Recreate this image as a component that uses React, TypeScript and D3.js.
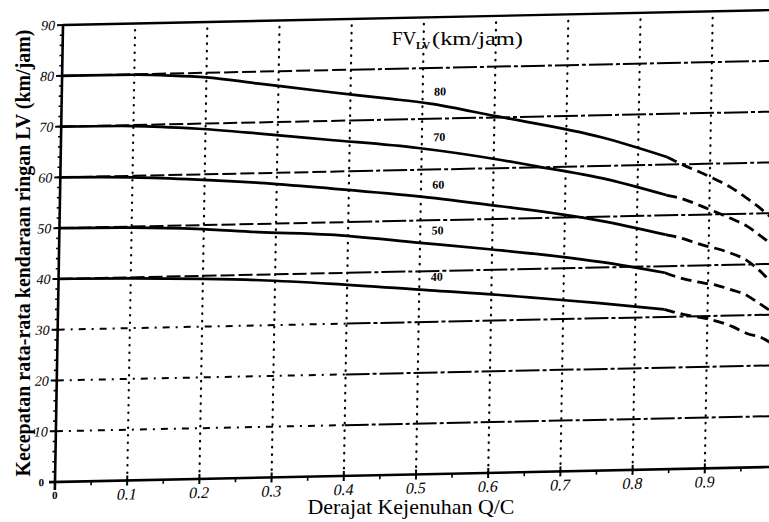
import * as d3 from "d3"

// Q/C ticks and speed ticks
const qcTicks = [0.1, 0.2, 0.3, 0.4, 0.5, 0.6, 0.7, 0.8, 0.9]
const qcLabels = ["0.1", "0.2", "0.3", "0.4", "0.5", "0.6", "0.7", "0.8", "0.9"]
const speedTicks = [10, 20, 30, 40, 50, 60, 70, 80, 90]
const gridSpeeds = [10, 20, 30, 40, 50, 60, 70, 80]
const fvNames = ["80", "70", "60", "50", "40"]

// [Q/C, km/jam], solid part then dashed extension
const fv80 = [[0, 80], [0.1, 79.9], [0.15, 79.6], [0.2, 79.1], [0.27, 77.7], [0.37, 75.7], [0.45, 74.2], [0.51, 73.0], [0.6, 70.3], [0.75, 65.6], [0.84, 61.5]]
const fv80Ext = [[0.84, 61.5], [0.855, 60.4], [0.896, 57.7], [0.931, 55.1], [0.956, 52.6], [0.974, 50.6], [0.99, 48.6]]
const fv70 = [[0, 70], [0.1, 69.8], [0.19, 69.0], [0.275, 67.8], [0.37, 66.3], [0.495, 64.3], [0.61, 61.6], [0.66, 60.2], [0.75, 57.6], [0.84, 54.0]]
const fv70Ext = [[0.84, 54.0], [0.855, 53.5], [0.9, 51.0], [0.932, 49.0], [0.952, 47.6], [0.974, 45.3], [0.99, 43.5]]
const fv60 = [[0, 60], [0.1, 59.7], [0.19, 59.0], [0.276, 58.1], [0.374, 56.7], [0.5, 54.7], [0.6, 52.7], [0.7, 50.5], [0.75, 49.2], [0.84, 46.2]]
const fv60Ext = [[0.84, 46.2], [0.855, 45.7], [0.892, 44.0], [0.925, 42.6], [0.953, 40.8], [0.975, 38.2], [0.99, 36.0]]
const fv50 = [[0, 50], [0.1, 49.8], [0.19, 49.3], [0.275, 48.4], [0.374, 47.6], [0.5, 45.6], [0.6, 44.0], [0.7, 42.2], [0.75, 41.1], [0.84, 38.7]]
const fv50Ext = [[0.84, 38.7], [0.857, 37.8], [0.884, 36.8], [0.912, 36.0], [0.934, 35.0], [0.953, 34.0], [0.971, 32.3], [0.99, 30.5]]
const fv40 = [[0, 40], [0.1, 39.8], [0.2, 39.4], [0.28, 38.9], [0.38, 37.9], [0.515, 36.2], [0.612, 35.0], [0.653, 34.4], [0.75, 33.0], [0.84, 31.5]]
const fv40Ext = [[0.84, 31.5], [0.87, 30.3], [0.899, 29.5], [0.935, 27.8], [0.955, 26.4], [0.977, 25.4], [0.99, 24.3]]

const curves = [
  { name: fvNames[0], solid: fv80, ext: fv80Ext },
  { name: fvNames[1], solid: fv70, ext: fv70Ext },
  { name: fvNames[2], solid: fv60, ext: fv60Ext },
  { name: fvNames[3], solid: fv50, ext: fv50Ext },
  { name: fvNames[4], solid: fv40, ext: fv40Ext },
]

const W = 769
const H = 522
const font = "'Liberation Serif', 'DejaVu Serif', serif"

const valueAt = (pts, q) => {
  const i = Math.min(Math.max(d3.bisector((d) => d[0]).right(pts, q), 1), pts.length - 1)
  const a = pts[i - 1]
  const b = pts[i]
  return a[1] + ((b[1] - a[1]) * (q - a[0])) / (b[0] - a[0])
}

export default function App() {
  const x = d3.scaleLinear().domain([0, 1]).range([0, 722])
  const y = d3.scaleLinear().domain([0, 90]).range([0, -457])
  const line = d3
    .line()
    .x((d) => x(d[0]))
    .y((d) => y(d[1]))
    .curve(d3.curveMonotoneX)

  // the scan is slightly skewed: x axis rises to the right, y axis leans right
  const skew = "matrix(1,-0.021,-0.0175,1,55,482)"
  const minorQ = d3.range(0.05, 1, 0.1)
  const minorS = d3.range(2, 90, 2)

  return (
    <svg width={W} height={H} style={{ position: "absolute", left: 0, top: 0, background: "#fff" }}>
      <g transform={skew} fill="none" stroke="#000">
        {/* vertical dotted grid */}
        {qcTicks.map((q) => (
          <line key={"v" + q} x1={x(q)} x2={x(q)} y1={0} y2={y(90)} strokeWidth={2.2} strokeDasharray="0.5,7" strokeLinecap="round" />
        ))}
        {/* horizontal grid */}
        {gridSpeeds.map((s) => (
          <g key={"h" + s}>
            <line x1={x(0)} x2={x(0.4)} y1={y(s)} y2={y(s)} strokeWidth={2} strokeDasharray={s >= 40 ? "14,4" : "7,6,2,6"} />
            <line x1={x(0.4)} x2={x(1)} y1={y(s)} y2={y(s)} strokeWidth={2} strokeDasharray="24,3,4,3" />
          </g>
        ))}
        {/* top border at 90 */}
        <line x1={x(0)} x2={x(1)} y1={y(90)} y2={y(90)} strokeWidth={2.4} />

        {/* axes */}
        <line x1={-6} x2={x(1)} y1={0} y2={0} strokeWidth={2.6} />
        <line x1={0} x2={0} y1={8} y2={y(90)} strokeWidth={2.6} />
        {qcTicks.map((q) => (
          <line key={"xt" + q} x1={x(q)} x2={x(q)} y1={-5} y2={5} strokeWidth={2} />
        ))}
        {minorQ.map((q) => (
          <line key={"xm" + q} x1={x(q)} x2={x(q)} y1={0} y2={4} strokeWidth={1.6} />
        ))}
        {speedTicks.map((s) => (
          <line key={"yt" + s} x1={-6} x2={0} y1={y(s)} y2={y(s)} strokeWidth={2} />
        ))}
        {minorS.map((s) => (
          <line key={"ym" + s} x1={-3} x2={0} y1={y(s)} y2={y(s)} strokeWidth={1.6} />
        ))}

        {/* speed curves */}
        {curves.map((c) => (
          <g key={"c" + c.name}>
            <path d={line(c.solid)} strokeWidth={2.7} />
            <path d={line(c.ext)} strokeWidth={2.8} strokeDasharray="11,6" />
          </g>
        ))}

        <g stroke="none" fill="#000" fontFamily={font}>
          {curves.map((c) => (
            <text key={"l" + c.name} x={x(0.524)} y={y(valueAt(c.solid, 0.524) + 2.8)} dy="0.35em" textAnchor="middle" fontSize={12} fontWeight="bold">
              {c.name}
            </text>
          ))}
          {qcTicks.map((q, i) => (
            <text key={"xl" + q} x={x(q)} y={19} textAnchor="middle" fontSize={16} fontStyle="italic">
              {qcLabels[i]}
            </text>
          ))}
          <text x={0} y={17} textAnchor="middle" fontSize={11} fontWeight="bold">0</text>
          {speedTicks.map((s) => (
            <text key={"yl" + s} x={-8} y={y(s)} dy="0.35em" textAnchor="end" fontSize={14} fontStyle="italic">
              {s}
            </text>
          ))}
          <text x={-11} y={0} dy="0.35em" textAnchor="end" fontSize={11} fontWeight="bold">0</text>
        </g>
      </g>

      <g fill="#000" fontFamily={font}>
        <text x={392} y={45} fontSize={19}>FV</text>
        <text x={416} y={49} fontSize={11} fontWeight="bold">LV</text>
        <text x={432} y={45} fontSize={19} textLength={91} lengthAdjust="spacingAndGlyphs">(km/jam)</text>
        <text x={411} y={514} fontSize={21} textAnchor="middle" textLength={207} lengthAdjust="spacingAndGlyphs">
          Derajat Kejenuhan Q/C
        </text>
        <text transform="translate(30,253) rotate(-90)" fontSize={21} fontWeight="bold" textAnchor="middle" textLength={447} lengthAdjust="spacingAndGlyphs">
          Kecepatan rata-rata kendaraan ringan LV (km/jam)
        </text>
      </g>
    </svg>
  )
}
